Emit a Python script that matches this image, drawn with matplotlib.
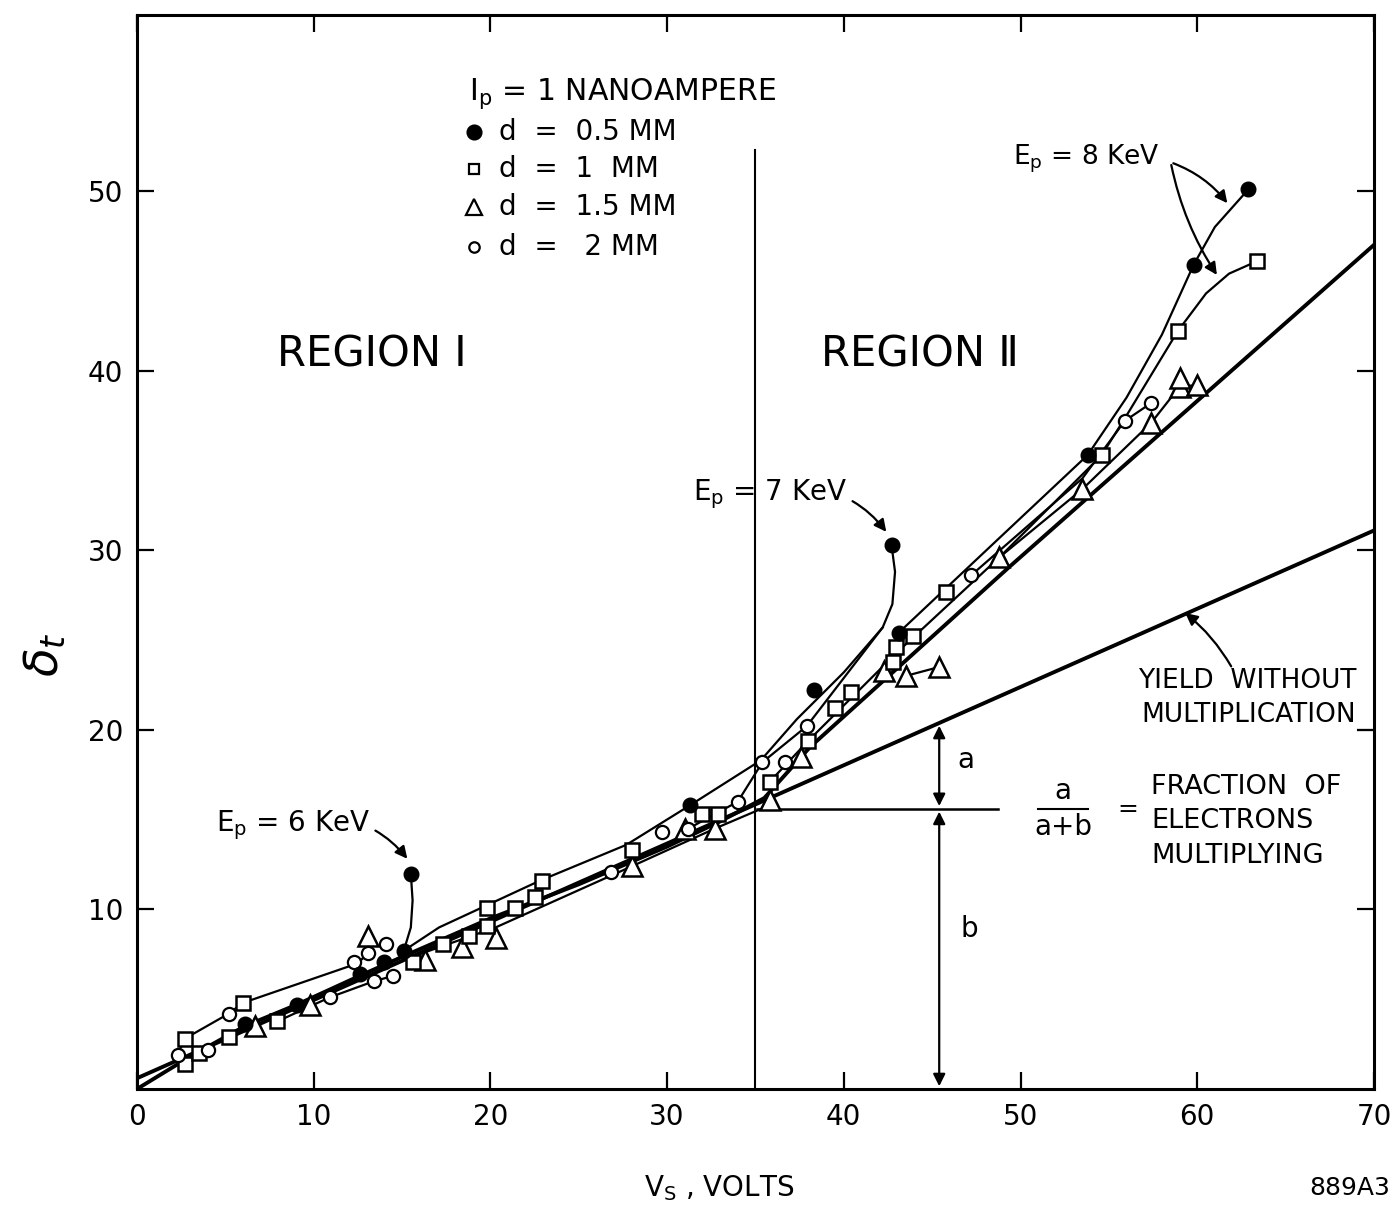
import matplotlib
matplotlib.use("Agg")
import matplotlib.pyplot as plt
import numpy as np

# ---- measured points: V_s (volts) vs total yield delta_t ----
d05_x = [6.1, 9.05, 12.6, 14.0, 15.1, 15.5, 31.3, 38.3, 42.7, 43.1, 53.8, 59.8, 62.9]
d05_y = [3.6, 4.7, 6.4, 7.1, 7.7, 12.0, 15.8, 22.2, 30.3, 25.4, 35.3, 45.9, 50.1]

d1_x = [2.7, 2.7, 3.5, 5.2, 6.0, 7.9, 15.6, 17.3, 18.8, 19.8, 19.8, 21.4, 22.5, 22.9,
        28.0, 32.0, 32.9, 35.8, 38.0, 39.5, 40.4, 42.8, 42.95, 43.9, 45.8, 54.6, 58.9, 63.4]
d1_y = [1.4, 2.8, 2.0, 2.9, 4.8, 3.8, 7.1, 8.1, 8.5, 9.1, 10.1, 10.1, 10.7, 11.6,
        13.3, 15.3, 15.3, 17.1, 19.4, 21.2, 22.1, 23.8, 24.6, 25.2, 27.7, 35.3, 42.2, 46.1]

d15_x = [6.7, 9.8, 13.1, 16.3, 18.4, 20.3, 28.0, 31.0, 32.7, 35.8, 37.6, 42.3, 43.5,
         45.4, 48.8, 53.5, 57.4, 59.0, 59.0, 60.0]
d15_y = [3.5, 4.7, 8.5, 7.2, 7.9, 8.4, 12.4, 14.5, 14.5, 16.1, 18.5, 23.3, 23.0,
         23.5, 29.6, 33.4, 37.1, 39.1, 39.6, 39.2]

d2_x = [2.3, 4.0, 5.2, 10.9, 12.3, 13.1, 14.1, 13.4, 14.5, 26.8, 29.7, 31.2, 34.0,
        35.4, 36.7, 37.9, 47.2, 55.9, 57.4]
d2_y = [1.9, 2.2, 4.2, 5.1, 7.1, 7.6, 8.1, 6.0, 6.3, 12.1, 14.3, 14.5, 16.0,
        18.2, 18.2, 20.2, 28.6, 37.2, 38.2]

# ---- hand-drawn fitting curves (vertices along each drawn line) ----
yield_x = [0, 70]
yield_y = [0.6, 31.1]

main_x = [0, 3.0, 6.1, 9.05, 12.6, 15.1, 20.0, 25.0, 30.0, 33.0, 35.5, 38.1, 49.4, 70]
main_y = [0.0, 1.8, 3.5, 4.7, 6.3, 7.4, 9.5, 11.4, 13.5, 14.9, 16.2, 19.05, 29.1, 47.0]

upper_x = [2.3, 2.7, 5.2, 6.0, 12.5, 13.1]
upper_y = [1.9, 2.8, 4.2, 4.8, 7.0, 7.6]

ep7_x = [15.1, 17.1, 22.8, 27.7, 31.3, 35.3, 37.35, 40.0, 42.2, 42.75, 42.9, 42.7]
ep7_y = [7.7, 9.0, 11.6, 13.6, 15.8, 18.3, 20.6, 23.2, 25.7, 27.0, 28.8, 30.3]

ep6_x = [15.1, 15.5, 15.6, 15.5]
ep6_y = [7.7, 9.0, 10.5, 12.0]

low_x = [7.8, 10.9, 13.4, 14.5]
low_y = [3.7, 5.1, 6.0, 6.3]

tri1_x = [15.1, 20.3, 28.0, 32.7, 35.8]
tri1_y = [7.2, 9.0, 12.4, 14.5, 15.8]

circ2_x = [31.2, 34.0, 35.4, 37.9, 42.2]
circ2_y = [14.5, 16.0, 18.2, 20.2, 25.7]

sq2_x = [35.8, 38.0, 43.0, 48.8, 54.6, 56.0, 58.9, 60.5, 61.8, 63.4]
sq2_y = [17.1, 19.4, 24.3, 29.6, 35.3, 37.5, 42.2, 44.3, 45.4, 46.1]

fill2_x = [43.1, 48.5, 53.8, 56.0, 58.0, 59.8, 61.0, 62.9]
fill2_y = [25.4, 30.4, 35.3, 38.5, 42.0, 45.9, 48.0, 50.1]

tri2_x = [48.8, 53.5, 57.4, 59.0, 60.0]
tri2_y = [29.6, 33.4, 37.1, 39.1, 39.2]

tri3_x = [43.5, 45.4]
tri3_y = [23.0, 23.5]

circ3_x = [47.2, 53.5, 55.9, 57.4]
circ3_y = [28.6, 34.0, 37.2, 38.2]

x_ticks = [0, 10, 20, 30, 40, 50, 60, 70]
y_ticks = [10, 20, 30, 40, 50]

FONT = "DejaVu Sans"
plt.rcParams["font.family"] = FONT

fig = plt.figure(figsize=(13.97, 12.11), dpi=100)
ax = fig.add_axes([0.098, 0.1007, 0.8855, 0.8869])
ax.set_xlim(0, 70)
ax.set_ylim(0, 59.8)

k = "black"
# lines
ax.plot(yield_x, yield_y, color=k, lw=2.8, solid_capstyle="butt")
ax.plot(main_x, main_y, color=k, lw=2.8)
for cx, cy in [(upper_x, upper_y), (ep7_x, ep7_y), (ep6_x, ep6_y), (low_x, low_y),
               (tri1_x, tri1_y), (circ2_x, circ2_y), (sq2_x, sq2_y), (fill2_x, fill2_y),
               (tri2_x, tri2_y), (tri3_x, tri3_y), (circ3_x, circ3_y)]:
    ax.plot(cx, cy, color=k, lw=1.6)

# markers
ax.plot(d15_x, d15_y, ls="none", marker="^", ms=15, mfc="white", mec=k, mew=1.8, zorder=5)
ax.plot(d1_x, d1_y, ls="none", marker="s", ms=9.5, mfc="white", mec=k, mew=1.8, zorder=6)
ax.plot(d2_x, d2_y, ls="none", marker="o", ms=9.5, mfc="white", mec=k, mew=1.6, zorder=6)
ax.plot(d05_x, d05_y, ls="none", marker="o", ms=10.5, mfc=k, mec=k, zorder=7)

# region divider
ax.plot([35, 35], [0, 52.3], color=k, lw=1.5)
ax.text(13.3, 40.9, "REGION Ⅰ", fontsize=30, ha="center", va="center")
ax.text(44.3, 40.9, "REGION Ⅱ", fontsize=30, ha="center", va="center")

# key
ax.text(18.8, 55.4, r"I$_{\rm p}$ = 1 NANOAMPERE", fontsize=21.5, va="center")
key_rows = [("o", k, 10, "d  =  0.5 MM", 53.3), ("s", "white", 7.5, "d  =  1  MM", 51.2),
            ("^", "white", 11, "d  =  1.5 MM", 49.1), ("o", "white", 7.5, "d  =   2 MM", 46.9)]
for m, fc, ms, label, yy in key_rows:
    ax.plot([19.1], [yy], marker=m, ms=ms, mfc=fc, mec=k, mew=1.6, ls="none", clip_on=False)
    ax.text(20.5, yy, label, fontsize=20, va="center")

# energy labels with curved arrows
arrow = dict(arrowstyle="-|>", color=k, lw=1.6, mutation_scale=18)
ax.annotate(r"E$_{\rm p}$ = 6 KeV", xy=(15.4, 12.7), xytext=(13.2, 14.7), fontsize=20,
            ha="right", va="center",
            arrowprops=dict(connectionstyle="arc3,rad=-0.35", **arrow))
ax.annotate(r"E$_{\rm p}$ = 7 KeV", xy=(42.5, 30.9), xytext=(40.2, 33.1), fontsize=20,
            ha="right", va="center",
            arrowprops=dict(connectionstyle="arc3,rad=-0.35", **arrow))
ax.text(57.9, 51.8, r"E$_{\rm p}$ = 8 KeV", fontsize=19, ha="right", va="center")
ax.annotate("", xy=(61.8, 49.2), xytext=(58.5, 51.6),
            arrowprops=dict(connectionstyle="arc3,rad=-0.15", **arrow))
ax.annotate("", xy=(61.2, 45.2), xytext=(58.5, 51.6),
            arrowprops=dict(connectionstyle="arc3,rad=0.1", **arrow))

# yield without multiplication
ax.annotate("", xy=(59.2, 26.6), xytext=(62.0, 23.4),
            arrowprops=dict(connectionstyle="arc3,rad=0.1", **arrow))
ax.text(69.0, 22.7, "YIELD  WITHOUT", fontsize=19, ha="right", va="center")
ax.text(69.0, 20.8, "MULTIPLICATION", fontsize=19, ha="right", va="center")
ax.plot([69.1, 70], [20.0, 20.0], color=k, lw=1.5)

# a / b construction
ya = yield_y[0] + (yield_y[1] - yield_y[0]) / 70 * 45.4
ax.plot([35.1, 48.7], [15.6, 15.6], color=k, lw=1.8)
ax.annotate("", xy=(45.4, ya), xytext=(45.4, 15.6),
            arrowprops=dict(arrowstyle="<|-|>", color=k, lw=1.6, mutation_scale=18))
ax.annotate("", xy=(45.4, 0.0), xytext=(45.4, 15.6),
            arrowprops=dict(arrowstyle="<|-|>", color=k, lw=1.6, mutation_scale=18))
ax.text(46.4, 18.3, "a", fontsize=20, va="center")
ax.text(46.6, 8.9, "b", fontsize=20, va="center")
ax.text(52.4, 16.6, "a", fontsize=20, ha="center", va="center")
ax.plot([51.0, 53.8], [15.6, 15.6], color=k, lw=1.5)
ax.text(52.4, 14.6, "a+b", fontsize=20, ha="center", va="center")
ax.text(56.1, 15.6, "=", fontsize=18, ha="center", va="center")
ax.text(57.4, 16.8, "FRACTION  OF", fontsize=19.5, va="center")
ax.text(57.4, 14.9, "ELECTRONS", fontsize=19.5, va="center")
ax.text(57.4, 13.0, "MULTIPLYING", fontsize=19.5, va="center")

# axes styling
for s in ax.spines.values():
    s.set_linewidth(2.2)
ax.set_xticks(x_ticks)
ax.set_yticks(y_ticks)
ax.set_xticklabels([str(v) for v in x_ticks])
ax.set_yticklabels([str(v) for v in y_ticks])
ax.tick_params(direction="in", length=12, width=1.6, labelsize=20, pad=10,
               top=True, right=True)

ax.text(-0.074, 24.2, r"$\delta_t$", fontsize=34, rotation=90, ha="center", va="center",
        transform=ax.get_yaxis_transform())
fig.text(0.515, 0.019, r"V$_{\rm S}$ , VOLTS", fontsize=20, ha="center", va="center")
fig.text(0.995, 0.019, "889A3", fontsize=18, ha="right", va="center")

fig.savefig("out.png", dpi=100, facecolor="white")
